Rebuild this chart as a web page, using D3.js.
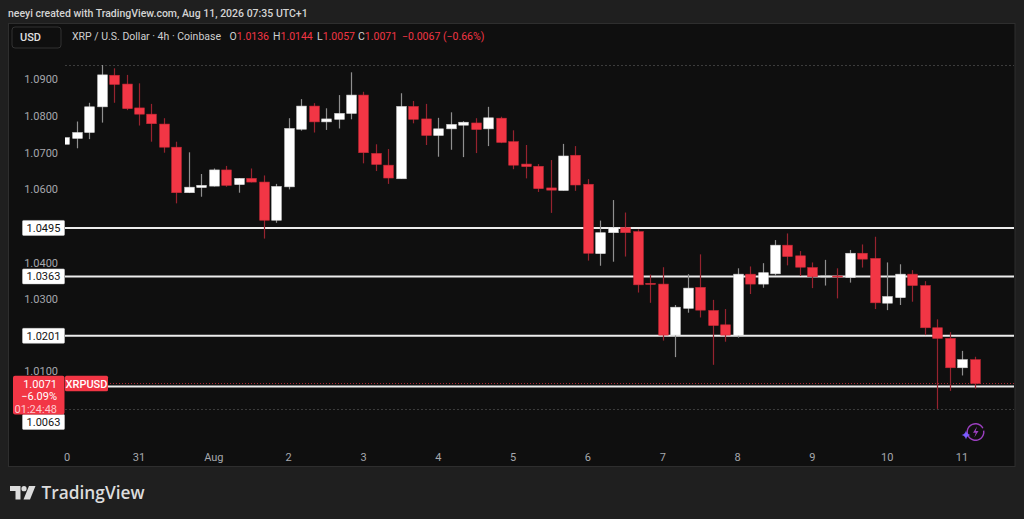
<!DOCTYPE html>
<html><head><meta charset="utf-8">
<script src="https://cdn.jsdelivr.net/npm/d3@7"></script>
<style>html,body{margin:0;padding:0;background:#1f1f1f;overflow:hidden}svg{display:block}</style>
</head><body><svg id="c" width="1024" height="519"></svg>
<script>
// ---- data (4h candles, Jul 30 00:00 -> Aug 11 04:00) ----
const opens  = [1.0723,1.0739,1.0755,1.0825,1.0911,1.0887,1.0822,1.0805,1.0778,1.0715,1.0591,1.0605,1.0609,1.0653,1.0613,1.0630,1.0620,1.0516,1.0607,1.0764,1.0827,1.0784,1.0791,1.0807,1.0857,1.0698,1.0666,1.0629,1.0826,1.0792,1.0747,1.0765,1.0775,1.0781,1.0765,1.0794,1.0730,1.0669,1.0663,1.0604,1.0597,1.0693,1.0614,1.0425,1.0482,1.0496,1.0485,1.0344,1.0342,1.0203,1.0276,1.0333,1.0270,1.0231,1.0202,1.0369,1.0342,1.0370,1.0448,1.0419,1.0387,1.0362,1.0364,1.0360,1.0426,1.0412,1.0290,1.0305,1.0369,1.0338,1.0223,1.0194,1.0114,1.0136];
const highs  = [1.0742,1.0785,1.0836,1.0939,1.0930,1.0912,1.0889,1.0833,1.0794,1.0730,1.0701,1.0642,1.0657,1.0664,1.0631,1.0657,1.0638,1.0615,1.0794,1.0846,1.0835,1.0821,1.0857,1.0919,1.0866,1.0723,1.0710,1.0862,1.0841,1.0833,1.0795,1.0810,1.0786,1.0794,1.0825,1.0798,1.0761,1.0721,1.0669,1.0680,1.0724,1.0718,1.0628,1.0515,1.0571,1.0537,1.0491,1.0368,1.0388,1.0285,1.0369,1.0423,1.0299,1.0274,1.0385,1.0390,1.0399,1.0462,1.0480,1.0432,1.0401,1.0408,1.0385,1.0435,1.0450,1.0471,1.0401,1.0396,1.0380,1.0350,1.0246,1.0211,1.0160,1.0144];
const lows   = [1.0722,1.0712,1.0737,1.0782,1.0836,1.0816,1.0774,1.0730,1.0700,1.0562,1.0590,1.0580,1.0608,1.0607,1.0591,1.0619,1.0466,1.0509,1.0600,1.0760,1.0755,1.0762,1.0766,1.0791,1.0671,1.0650,1.0615,1.0629,1.0780,1.0721,1.0689,1.0708,1.0688,1.0699,1.0718,1.0726,1.0655,1.0630,1.0593,1.0536,1.0597,1.0596,1.0406,1.0392,1.0403,1.0417,1.0319,1.0291,1.0188,1.0143,1.0264,1.0251,1.0122,1.0185,1.0196,1.0315,1.0332,1.0364,1.0393,1.0364,1.0331,1.0338,1.0303,1.0346,1.0387,1.0274,1.0271,1.0285,1.0294,1.0203,1.0002,1.0051,1.0093,1.0057];
const closes = [1.0741,1.0755,1.0825,1.0912,1.0886,1.0820,1.0805,1.0779,1.0715,1.0591,1.0606,1.0611,1.0653,1.0611,1.0630,1.0620,1.0516,1.0608,1.0766,1.0827,1.0784,1.0792,1.0807,1.0857,1.0700,1.0668,1.0631,1.0826,1.0791,1.0747,1.0765,1.0777,1.0783,1.0763,1.0795,1.0728,1.0666,1.0662,1.0602,1.0598,1.0691,1.0612,1.0426,1.0482,1.0496,1.0482,1.0340,1.0342,1.0203,1.0279,1.0331,1.0271,1.0229,1.0203,1.0369,1.0342,1.0373,1.0448,1.0417,1.0388,1.0362,1.0364,1.0362,1.0426,1.0410,1.0291,1.0308,1.0369,1.0338,1.0223,1.0194,1.0114,1.0136,1.0071];
const dayLabels  = ["0","31","Aug","2","3","4","5","6","7","8","9","10","11"];
const priceTicks = [1.09,1.08,1.07,1.06,1.04,1.03,1.01];
const levelLines = [1.0495,1.0363,1.0201,1.0063];
const lastPrice = 1.0071;
const lastChange = "\u22126.09%";
const countdown = "01:24:48";

// ---- layout ----
const svg = d3.select("#c");
const W = 1024, H = 519;
const pane = {x0: 8.5, y0: 23.5, x1: 1015, y1: 466.5};
const plotX0 = 65;
const x = d3.scaleLinear().domain([0, 73]).range([64.2, 974.5]);
const y = d3.scaleLinear().domain([1.09, 1.02]).range([79.3, 336.2]);
const bodyW = 9.6;
const UP = "#ffffff", DN = "#f23645", UPW = "#8f8f8f", DNW = "#96232f";
const FONT = "Roboto, 'Noto Sans', sans-serif";

svg.append("rect").attr("width", W).attr("height", H).attr("fill", "#1f1f1f");
svg.append("rect").attr("x", pane.x0).attr("y", pane.y0)
  .attr("width", pane.x1 - pane.x0).attr("height", pane.y1 - pane.y0)
  .attr("fill", "#0f0f0f").attr("stroke", "#2e2e2e").attr("stroke-width", 1);

svg.append("defs").append("clipPath").attr("id", "plot")
  .append("rect").attr("x", plotX0).attr("y", pane.y0 + 0.5)
  .attr("width", pane.x1 - plotX0 - 1).attr("height", pane.y1 - pane.y0 - 1);

const g = svg.append("g").attr("clip-path", "url(#plot)");

// hi/lo dotted lines
const hiVal = d3.max(highs), loVal = d3.min(lows);
[hiVal, loVal].forEach(v => {
  g.append("line").attr("x1", plotX0).attr("x2", pane.x1)
    .attr("y1", Math.round(y(v)) + 0.5).attr("y2", Math.round(y(v)) + 0.5)
    .attr("stroke", "#3c3c3c").attr("stroke-width", 1).attr("stroke-dasharray", "2,2");
});

// horizontal levels
g.selectAll("line.lvl").data(levelLines).enter().append("line")
  .attr("class", "lvl")
  .attr("x1", plotX0 - 1).attr("x2", pane.x1)
  .attr("y1", d => y(d)).attr("y2", d => y(d))
  .attr("stroke", "#ececec").attr("stroke-width", 2);

// last price dotted
g.append("line").attr("x1", plotX0).attr("x2", pane.x1)
  .attr("y1", y(lastPrice)).attr("y2", y(lastPrice))
  .attr("stroke", "#f23645").attr("stroke-opacity", 0.7)
  .attr("stroke-width", 1).attr("stroke-dasharray", "1,2");

// candles
const candles = d3.range(opens.length).map(i => ({i, o: opens[i], h: highs[i], l: lows[i], c: closes[i]}));
const cg = g.selectAll("g.cdl").data(candles).enter().append("g");
cg.append("line")
  .attr("x1", d => Math.round(x(d.i)) + 0.5).attr("x2", d => Math.round(x(d.i)) + 0.5)
  .attr("y1", d => y(d.h)).attr("y2", d => y(d.l))
  .attr("stroke", d => d.c >= d.o ? UPW : DNW).attr("stroke-width", 1.2);
cg.append("rect")
  .attr("x", d => Math.round(x(d.i)) + 0.5 - bodyW / 2)
  .attr("width", bodyW)
  .attr("y", d => y(Math.max(d.o, d.c)))
  .attr("height", d => Math.max(1, Math.abs(y(d.o) - y(d.c))))
  .attr("fill", d => d.c >= d.o ? UP : DN)
  .attr("stroke", d => d.c >= d.o ? "#d8d8d8" : "#c92a38").attr("stroke-width", 0.6);

// price axis tick labels
svg.selectAll("text.pt").data(priceTicks).enter().append("text")
  .attr("x", 58).attr("y", d => y(d) - (d === 1.01 ? 1.5 : 0)).attr("dy", "0.35em")
  .attr("text-anchor", "end").attr("font-family", FONT).attr("font-size", 11)
  .attr("fill", "#a6a8ad").text(d => d.toFixed(4));

// level labels
const labelY = v => v === levelLines[3] ? 422 : y(v);
levelLines.forEach(v => {
  const cy = labelY(v);
  svg.append("rect").attr("x", 22.5).attr("y", cy - 7.5).attr("width", 42).attr("height", 15)
    .attr("fill", "#ffffff").attr("stroke", "#d0d0d0").attr("stroke-width", 0.5).attr("rx", 1);
  svg.append("text").attr("x", 43.5).attr("y", cy).attr("dy", "0.36em")
    .attr("text-anchor", "middle").attr("font-family", FONT).attr("font-size", 11)
    .attr("fill", "#131313").text(v.toFixed(4));
});

// last price box
const ly = y(lastPrice);
svg.append("rect").attr("x", 13).attr("y", ly - 7.7).attr("width", 51.5).attr("height", 38.6)
  .attr("fill", "#f23645").attr("rx", 2);
svg.append("text").attr("x", 57).attr("y", ly + 0.8).attr("dy", "0.36em").attr("text-anchor", "end")
  .attr("font-family", FONT).attr("font-size", 11).attr("fill", "#ffffff").text(lastPrice.toFixed(4));
svg.append("text").attr("x", 57).attr("y", ly + 12.8).attr("dy", "0.36em").attr("text-anchor", "end")
  .attr("font-family", FONT).attr("font-size", 11).attr("fill", "#ffffff").text(lastChange);
svg.append("text").attr("x", 57).attr("y", ly + 25).attr("dy", "0.36em").attr("text-anchor", "end")
  .attr("font-family", FONT).attr("font-size", 11).attr("fill", "#ffc9ce").text(countdown);
svg.append("rect").attr("x", 65).attr("y", ly - 7.7).attr("width", 43).attr("height", 15.5)
  .attr("fill", "#f23645").attr("rx", 1.5);
svg.append("text").attr("x", 86.5).attr("y", ly).attr("dy", "0.36em").attr("text-anchor", "middle")
  .attr("font-family", FONT).attr("font-size", 11).attr("font-weight", 500).attr("fill", "#ffffff").text("XRPUSD");

// time axis labels
svg.selectAll("text.tl").data(dayLabels).enter().append("text")
  .attr("x", (d, k) => x(k * 6) + (k === 0 ? 3 : 0)).attr("y", 457).attr("dy", "0.35em")
  .attr("text-anchor", "middle").attr("font-family", FONT).attr("font-size", 11)
  .attr("fill", "#a6a8ad").text(d => d);

// header
svg.append("text").attr("x", 8).attr("y", 13).attr("dy", "0.35em")
  .attr("font-family", FONT).attr("font-size", 10.5).attr("font-weight", 500).attr("fill", "#d4d4d4")
  .text("neeyi created with TradingView.com, Aug 11, 2026 07:35 UTC+1");
svg.append("rect").attr("x", 12).attr("y", 27).attr("width", 49).attr("height", 21).attr("rx", 3)
  .attr("fill", "#0f0f0f").attr("stroke", "#333333");
svg.append("text").attr("x", 20).attr("y", 37.5).attr("dy", "0.35em")
  .attr("font-family", FONT).attr("font-size", 11).attr("font-weight", 500).attr("fill", "#e0e0e0").text("USD");
const leg = (xx, parts) => {
  const t = svg.append("text").attr("x", xx).attr("y", 36.5).attr("dy", "0.35em")
    .attr("font-family", FONT).attr("font-size", 10.5);
  parts.forEach(([s, col]) => t.append("tspan").attr("fill", col).text(s));
};
leg(72, [["XRP / U.S. Dollar \u00b7 4h \u00b7 Coinbase", "#cfcfcf"]]);
leg(229.5, [["O", "#cfcfcf"], [opens[73].toFixed(4), DN]]);
leg(273, [["H", "#cfcfcf"], [highs[73].toFixed(4), DN]]);
leg(317, [["L", "#cfcfcf"], [lows[73].toFixed(4), DN]]);
leg(358, [["C", "#cfcfcf"], [closes[73].toFixed(4), DN]]);
leg(402, [["\u22120.0067 (\u22120.66%)", DN]]);

// lightning icon
const ic = svg.append("g").attr("transform", "translate(975.5,432)");
ic.append("path").attr("d", d3.arc()({innerRadius: 7.6, outerRadius: 9, startAngle: -Math.PI * 0.55 + Math.PI, endAngle: Math.PI * 2.35}))
  .attr("fill", "#9b3fbf");
ic.append("path").attr("d", "M1.5,-5.5 L-2.5,0.8 L0.3,0.8 L-1.2,5.5 L3,-1 L0.2,-1 Z").attr("fill", "#9b3fbf");
svg.append("path").attr("transform", "translate(966,435)")
  .attr("d", "M0,-4.5 Q0.8,-0.8 4.5,0 Q0.8,0.8 0,4.5 Q-0.8,0.8 -4.5,0 Q-0.8,-0.8 0,-4.5 Z")
  .attr("fill", "#7a5cff");

// TradingView logo
const lg = svg.append("g").attr("fill", "#dcdcdc");
lg.append("path").attr("d", "M10,486 H20.5 V499.5 H15.5 V491 H10 Z");
lg.append("circle").attr("cx", 24).attr("cy", 488.7).attr("r", 2.6);
lg.append("path").attr("d", "M29,486 H35.5 L30,499.5 H23.5 Z");
svg.append("text").attr("x", 41.5).attr("y", 499).attr("font-family", "'Open Sans', Roboto, sans-serif")
  .attr("font-size", 17.3).attr("font-weight", 600).attr("fill", "#dcdcdc").text("TradingView");
</script></body></html>
